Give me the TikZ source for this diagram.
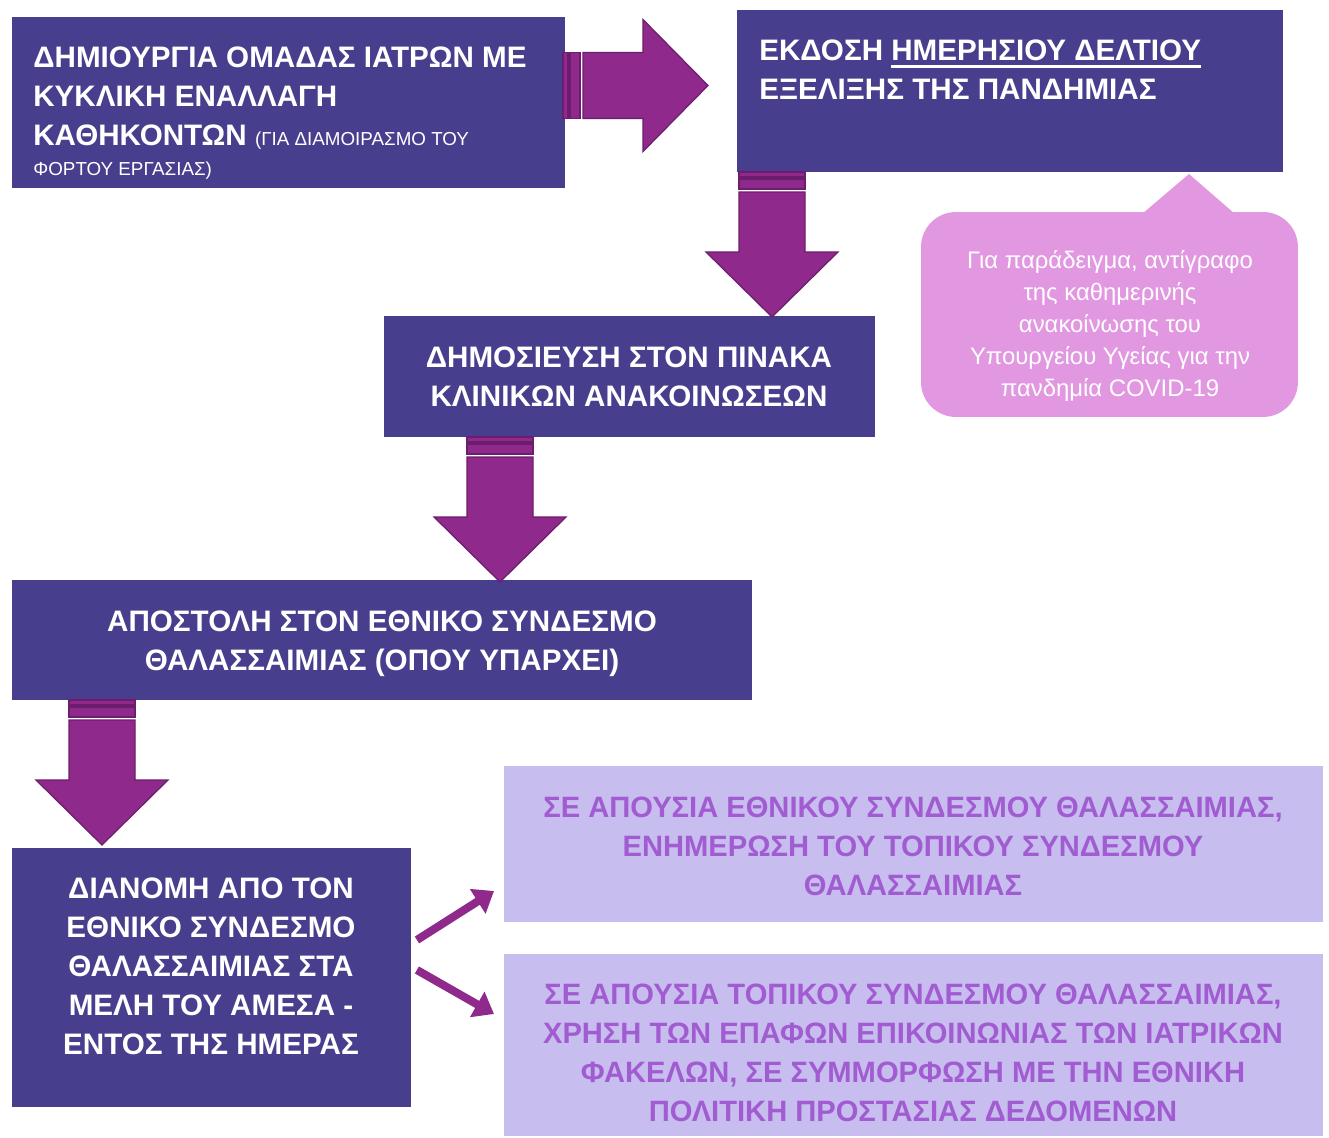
\documentclass[tikz,border=0pt]{standalone}
\usepackage{fontspec}
\setmainfont{Liberation Sans}
\newfontfamily\narrowfont[FakeStretch=0.99]{Liberation Sans}
\newsavebox\myulbox
\newcommand\myunderline[1]{\sbox\myulbox{#1}\rlap{\rule[-4.2pt]{\wd\myulbox}{1.5pt}}\usebox\myulbox}
\usetikzlibrary{arrows.meta,calc}
\definecolor{darkbox}{HTML}{473F8E}
\definecolor{lightbox}{HTML}{C7BDEF}
\definecolor{lighttext}{HTML}{A25CD1}
\definecolor{pinkbox}{HTML}{E198E0}
\definecolor{arrowfill}{HTML}{8F2A8C}
\definecolor{arrowedge}{HTML}{6C1D6D}
\tikzset{
  darkrect/.style={fill=darkbox, draw=none, inner sep=0pt, outer sep=0pt, anchor=north west},
  lightrect/.style={fill=lightbox, draw=none, inner sep=0pt, outer sep=0pt, anchor=north west},
  darktext/.style={text=white, inner sep=0pt, font=\fontsize{16.85pt}{22.2pt}\selectfont\bfseries},
  lighttxt/.style={text=lighttext, inner sep=0pt, align=center, font=\fontsize{16.75pt}{22.2pt}\selectfont\narrowfont\bfseries},
  calltext/.style={text=white, inner sep=0pt, align=center, font=\fontsize{13.6pt}{18.1pt}\selectfont},
  arrowpart/.style={fill=arrowfill, draw=arrowedge, line width=0.7pt},
  thinarrow/.style={draw=arrowfill, line width=4.6pt, -{Triangle[length=11pt,width=16pt]}}
}
\newcommand\blockdown[2]{%
  \filldraw[arrowpart] (#1-33,#2) rectangle (#1+33,#2+5);
  \filldraw[arrowpart] (#1-33,#2+7) rectangle (#1+33,#2+17);
  \filldraw[arrowpart] (#1-33,#2+20) -- (#1+33,#2+20) -- (#1+33,#2+80) -- (#1+66,#2+80)
     -- (#1,#2+145) -- (#1-66,#2+80) -- (#1-33,#2+80) -- cycle;
}
\newcommand\blockright[2]{%
  \filldraw[arrowpart] (#1,#2-33) rectangle (#1+5,#2+33);
  \filldraw[arrowpart] (#1+7,#2-33) rectangle (#1+17,#2+33);
  \filldraw[arrowpart] (#1+20,#2-33) -- (#1+20,#2+33) -- (#1+80,#2+33) -- (#1+80,#2+66)
     -- (#1+145,#2) -- (#1+80,#2-66) -- (#1+80,#2-33) -- cycle;
}
\begin{document}
\begin{tikzpicture}[x=0.02cm,y=-0.02cm]
\useasboundingbox (0,0) rectangle (1329,1137);
\fill[white] (0,0) rectangle (1329,1137);

% boxes
\node[darkrect, minimum width=11.06cm, minimum height=3.42cm] (b1) at (12,17) {};
\node[darkrect, minimum width=10.92cm, minimum height=3.24cm] (b2) at (737,10) {};
\node[darkrect, minimum width=9.82cm, minimum height=2.42cm] (b3) at (384,316) {};
\node[darkrect, minimum width=14.8cm, minimum height=2.4cm] (b4) at (12,580) {};
\node[darkrect, minimum width=7.98cm, minimum height=5.18cm] (b5) at (12,848) {};
\node[lightrect, minimum width=16.38cm, minimum height=3.12cm] (b6) at (504,766) {};
\node[lightrect, minimum width=16.38cm, minimum height=3.64cm] (b7) at (504,954) {};

% callout
\node[fill=pinkbox, draw=none, rounded corners=0.7cm, inner sep=0pt, outer sep=0pt,
      anchor=north west, minimum width=7.54cm, minimum height=4.1cm] (call) at (921,212) {};
\fill[pinkbox] (1142,214) -- (1189,174) -- (1235,214) -- cycle;

% texts
\node[darktext, anchor=north west, align=left] (t1) at (33,46.5)
  {ΔΗΜΙΟΥΡΓΙΑ ΟΜΑΔΑΣ ΙΑΤΡΩΝ ΜΕ\\ΚΥΚΛΙΚΗ ΕΝΑΛΛΑΓΗ\\ΚΑΘΗΚΟΝΤΩΝ {\mdseries\fontsize{10.7pt}{12pt}\selectfont (ΓΙΑ ΔΙΑΜΟΙΡΑΣΜΟ ΤΟΥ}\\[-5pt]{\mdseries\fontsize{10.7pt}{12pt}\selectfont ΦΟΡΤΟΥ ΕΡΓΑΣΙΑΣ)}};
\node[darktext, anchor=north west, align=left] (t2) at (759,39.5)
  {ΕΚΔΟΣΗ \myunderline{ΗΜΕΡΗΣΙΟΥ ΔΕΛΤΙΟΥ}\\ΕΞΕΛΙΞΗΣ ΤΗΣ ΠΑΝΔΗΜΙΑΣ};
\node[darktext, align=center] (t3) at (629,376.5)
  {ΔΗΜΟΣΙΕΥΣΗ ΣΤΟΝ ΠΙΝΑΚΑ\\ΚΛΙΝΙΚΩΝ ΑΝΑΚΟΙΝΩΣΕΩΝ};
\node[darktext, align=center] (t4) at (382,643.5)
  {ΑΠΟΣΤΟΛΗ ΣΤΟΝ ΕΘΝΙΚΟ ΣΥΝΔΕΣΜΟ\\ΘΑΛΑΣΣΑΙΜΙΑΣ (ΟΠΟΥ ΥΠΑΡΧΕΙ)};
\node[darktext, align=center] (t5) at (211,966)
  {ΔΙΑΝΟΜΗ ΑΠΟ ΤΟΝ\\ΕΘΝΙΚΟ ΣΥΝΔΕΣΜΟ\\ΘΑΛΑΣΣΑΙΜΙΑΣ ΣΤΑ\\ΜΕΛΗ ΤΟΥ ΑΜΕΣΑ -\\ΕΝΤΟΣ ΤΗΣ ΗΜΕΡΑΣ};
\node[lighttxt] (t6) at (913,846)
  {ΣΕ ΑΠΟΥΣΙΑ ΕΘΝΙΚΟΥ ΣΥΝΔΕΣΜΟΥ ΘΑΛΑΣΣΑΙΜΙΑΣ,\\ΕΝΗΜΕΡΩΣΗ ΤΟΥ ΤΟΠΙΚΟΥ ΣΥΝΔΕΣΜΟΥ\\ΘΑΛΑΣΣΑΙΜΙΑΣ};
\node[lighttxt] (t7) at (913,1053)
  {ΣΕ ΑΠΟΥΣΙΑ ΤΟΠΙΚΟΥ ΣΥΝΔΕΣΜΟΥ ΘΑΛΑΣΣΑΙΜΙΑΣ,\\ΧΡΗΣΗ ΤΩΝ ΕΠΑΦΩΝ ΕΠΙΚΟΙΝΩΝΙΑΣ ΤΩΝ ΙΑΤΡΙΚΩΝ\\ΦΑΚΕΛΩΝ, ΣΕ ΣΥΜΜΟΡΦΩΣΗ ΜΕ ΤΗΝ ΕΘΝΙΚΗ\\ΠΟΛΙΤΙΚΗ ΠΡΟΣΤΑΣΙΑΣ ΔΕΔΟΜΕΝΩΝ};
\node[calltext] (tc) at (1110,326)
  {Για παράδειγμα, αντίγραφο\\της καθημερινής\\ανακοίνωσης του\\Υπουργείου Υγείας για την\\πανδημία COVID-19};

% block arrows
\blockright{563}{85.5}
\blockdown{772}{172}
\blockdown{500}{437}
\blockdown{102}{700}

% thin arrows
\draw[thinarrow] ($(b5.east)+(6,-37.5)$) -- ($(b6.west)+(-10,47)$);
\draw[thinarrow] ($(b5.east)+(6,-7.5)$) -- ($(b7.west)+(-10,-31)$);
\end{tikzpicture}
\end{document}
